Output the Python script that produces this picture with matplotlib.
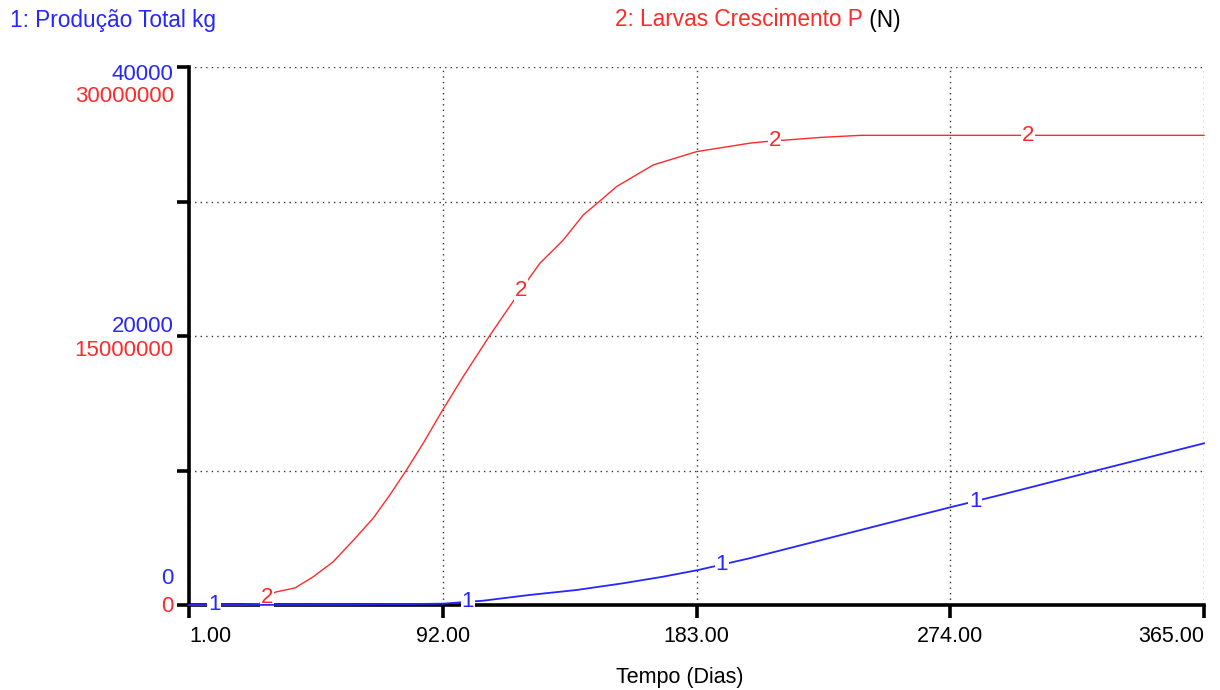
import matplotlib.pyplot as plt
import numpy as np

plt.rcParams['font.family'] = ['Liberation Sans', 'DejaVu Sans']

# series 1: Produção Total kg (scale 0..40000)
prod_days = [1, 60, 92, 106.5, 123, 140, 156.6, 171, 183.6, 202, 256, 274, 292, 327.6, 365]
prod_kg = [0, 20, 100, 320, 744, 1115, 1613, 2104, 2602, 3472, 6320, 7264, 8180, 10060, 12023]

# series 2: Larvas Crescimento P (scale 0..30000000)
larv_days = [1, 20, 26, 28, 32, 39, 45.6, 52.7, 60, 67, 73, 79, 85, 91.6, 99.3, 109,
             121.7, 126.8, 135.2, 142.4, 149.5, 154.3, 167.5, 183, 202, 207, 228, 242, 365]
larv_n = [0, 0.02e6, 0.05e6, 0.35e6, 0.72e6, 0.95e6, 1.58e6, 2.41e6, 3.62e6, 4.83e6, 6.13e6,
          7.53e6, 9.02e6, 10.78e6, 12.73e6, 15.06e6, 17.94e6, 19.05e6, 20.35e6, 21.75e6,
          22.68e6, 23.33e6, 24.54e6, 25.28e6, 25.75e6, 25.83e6, 26.08e6, 26.19e6, 26.19e6]

x_ticks = [1, 92, 183, 274, 365]
prod_max = 40000
larv_max = 30000000

label_days_1 = [10, 101, 192, 283]
label_days_2 = [29, 120, 211, 302]

blue = '#2626ff'
red = '#ff2a2a'

fig = plt.figure(figsize=(12.2, 6.9), dpi=100)
ax = fig.add_axes([189/1220, 1 - 605/690, (1204 - 189)/1220, (605 - 67)/690])
ax2 = ax.twinx()

ax.set_xlim(1, 365)
ax.set_ylim(0, larv_max)
ax2.set_ylim(0, prod_max)

ax2.plot(prod_days, prod_kg, color=blue, lw=1.3, zorder=3, clip_on=False)
ax.plot(larv_days, larv_n, color=red, lw=1.0, zorder=4, clip_on=False)

# numbered labels sitting on the curves
for d in label_days_1:
    ax2.text(d, np.interp(d, prod_days, prod_kg), '1', color=blue, fontsize=16,
             ha='center', va='center', zorder=6,
             bbox=dict(facecolor='white', edgecolor='none', pad=0.5))
for d in label_days_2:
    ax.text(d, np.interp(d, larv_days, larv_n), '2', color=red, fontsize=16,
            ha='center', va='center', zorder=6,
            bbox=dict(facecolor='white', edgecolor='none', pad=0.5))

# axes styling
for s in ['top', 'right']:
    ax.spines[s].set_visible(False)
    ax2.spines[s].set_visible(False)
ax2.spines['left'].set_visible(False)
ax2.spines['bottom'].set_visible(False)
ax2.set_yticks([])
ax.spines['left'].set_linewidth(2.6)
ax.spines['bottom'].set_linewidth(2.6)

ax.set_xticks(x_ticks)
ax.set_xticklabels(['%.2f' % t for t in x_ticks], fontsize=15.5)
tl = ax.get_xticklabels()
tl[0].set_horizontalalignment('left')
tl[-1].set_horizontalalignment('right')
ax.set_yticks([larv_max * f for f in [0, 0.25, 0.5, 0.75, 1]])
ax.set_yticklabels([])
ax.tick_params(length=9, width=2.6, direction='out', pad=6)
ax.grid(True, linestyle=(0, (1, 3)), color='#333333', lw=1)
ax.set_axisbelow(True)

# stacked y labels (blue over red), offsets in pixels
lab_offsets = [(0, 27, -1), (0.5, 9, -14), (1, -7, -30)]
for f, off_b, off_r in lab_offsets:
    ax.annotate('%d' % (prod_max * f), xy=(0, f), xycoords='axes fraction',
                xytext=(-11, off_b * 0.72), textcoords='offset points',
                ha='right', va='center', color=blue, fontsize=16)
    ax.annotate('%d' % (larv_max * f), xy=(0, f), xycoords='axes fraction',
                xytext=(-11, off_r * 0.72), textcoords='offset points',
                ha='right', va='center', color=red, fontsize=16)

ax.set_xlabel('Tempo (Dias)', fontsize=15.5)
ax.xaxis.set_label_coords((680 - 189) / (1204 - 189), -(677 - 605) / (605 - 67))
ax.xaxis.label.set_verticalalignment('center')

# header legend
fig.text(10/1220, 1 - 20/690, '1: Produção Total kg', color=blue, fontsize=16.3,
         ha='left', va='center')
t2 = fig.text(615/1220, 1 - 20/690, '2: Larvas Crescimento P', color=red, fontsize=16.3,
              ha='left', va='center')
ax.annotate(' (N)', xy=(1, 0.5), xycoords=t2, ha='left', va='center',
            color='black', fontsize=16.3)

fig.savefig('out.png', dpi=100, facecolor='white')
